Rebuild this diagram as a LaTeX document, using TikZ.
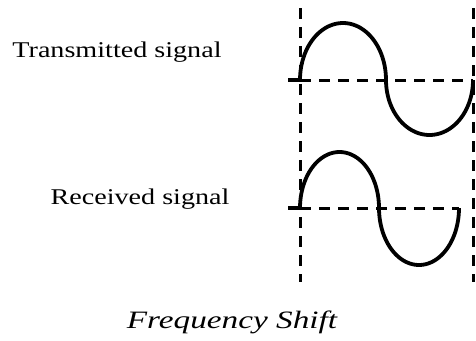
\documentclass[tikz,border=0pt]{standalone}
\usepackage{fontspec}
\setmainfont{Liberation Serif}
\begin{document}
\begin{tikzpicture}[x=1pt,y=-1pt,
  wave/.style={line width=3.8pt,line join=round},
  guide/.style={line width=3pt,dash pattern=on 11pt off 8pt},
  label/.style={font=\fontsize{22.5}{26}\selectfont,inner sep=0pt}]
\useasboundingbox (0,0) rectangle (476,340);

% time marks
\draw[guide] (300,8) -- (300,282);
\draw[guide] (473,8) -- (473,282);

% transmitted
\draw[guide] (300,80) -- (473,80);
\draw[wave] (288,80) -- (300,80)
  plot[domain=0:180,samples=60] ({343-43*cos(\x)},{80-57*sin(\x)})
  plot[domain=0:180,samples=60] ({429.5-43.5*cos(\x)},{80+55*sin(\x)});
\node[label] (tx) at (117,52) {\scalebox{1.25}[1]{Transmitted signal}};

% received
\draw[guide] (300,208) -- (459,208);
\draw[wave] (288,208) -- (300,208)
  plot[domain=0:180,samples=60] ({339.5-39.5*cos(\x)},{208-56*sin(\x)})
  plot[domain=0:180,samples=60] ({419-40*cos(\x)},{208+57*sin(\x)});
\node[label] (rx) at (140,199) {\scalebox{1.25}[1]{Received signal}};

\node[label,font=\fontsize{25}{28}\selectfont\itshape] (title) at (232,322) {\scalebox{1.33}[1]{Frequency Shift}};
\end{tikzpicture}
\end{document}
